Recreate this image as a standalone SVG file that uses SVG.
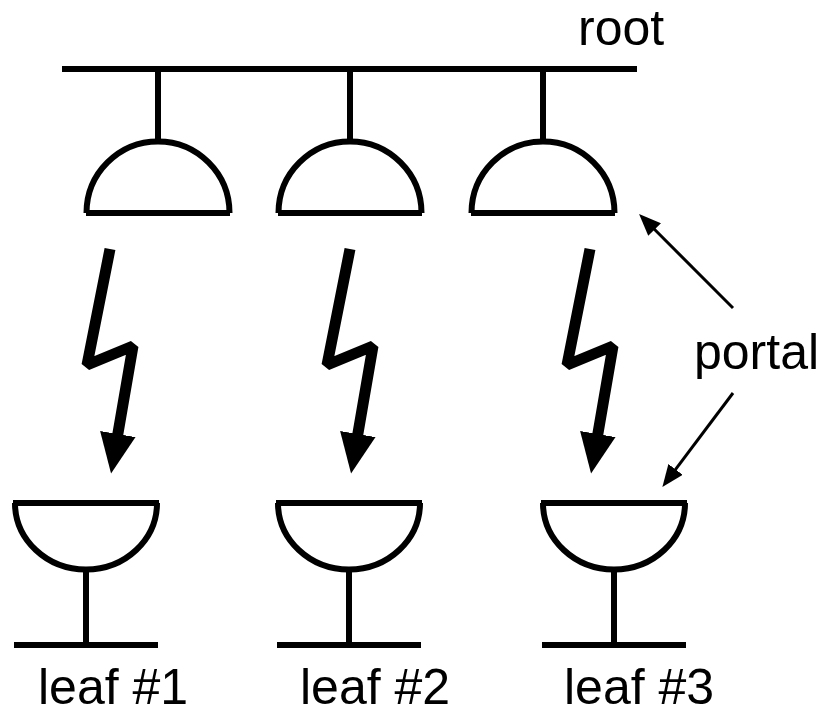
<svg xmlns="http://www.w3.org/2000/svg" width="827" height="710" viewBox="0 0 827 710">
  <style>
    .ln { fill: none; stroke: #000; stroke-width: 6; }
    .bolt { fill: none; stroke: #000; stroke-width: 11; stroke-linejoin: bevel; }
    .ptr { fill: none; stroke: #000; stroke-width: 3; }
    .lbl { font-family: "Liberation Sans", Arial, sans-serif; font-size: 50px; fill: #000; }
  </style>
  <defs>
    <marker id="bolthead" viewBox="0 0 40 36" refX="2" refY="18" markerWidth="40" markerHeight="36" markerUnits="userSpaceOnUse" orient="auto">
      <path d="M0,0 L40,18 L0,36 z" fill="#000"/>
    </marker>
    <marker id="head" viewBox="0 0 22 18" refX="1" refY="9" markerWidth="22" markerHeight="18" markerUnits="userSpaceOnUse" orient="auto">
      <path d="M0,0 L22,9 L0,18 z" fill="#000"/>
    </marker>
    <!-- portal dome hanging from the bus: centred at x=0, flat side at y=0 -->
    <g id="dome">
      <path class="ln" d="M-71.5,0 A71.5,71.5 0 0 1 71.5,0"/>
      <line class="ln" x1="-72" y1="0" x2="72" y2="0"/>
    </g>
    <!-- leaf dish with stem and base: rim centred at x=0, y=0 -->
    <g id="dish">
      <line class="ln" x1="-73" y1="0" x2="73" y2="0"/>
      <path class="ln" d="M-71,0 A71,66.5 0 0 0 71,0"/>
      <line class="ln" x1="0" y1="66" x2="0" y2="142"/>
      <line class="ln" x1="-72" y1="142" x2="72" y2="142"/>
    </g>
    <polyline id="bolt" class="bolt" points="110,249 87,365 133,346 117.5,436" marker-end="url(#bolthead)"/>
  </defs>

  <g id="root">
    <line class="ln" x1="62" y1="69" x2="637" y2="69"/>
    <text class="lbl" x="578" y="45">root</text>
  </g>

  <g id="portal-root-1">
    <line class="ln" x1="158" y1="69" x2="158" y2="142"/>
    <use href="#dome" x="158" y="213"/>
  </g>
  <g id="portal-root-2">
    <line class="ln" x1="350" y1="69" x2="350" y2="142"/>
    <use href="#dome" x="350" y="213"/>
  </g>
  <g id="portal-root-3">
    <line class="ln" x1="543" y1="69" x2="543" y2="142"/>
    <use href="#dome" x="543" y="213"/>
  </g>

  <g id="leaf-1">
    <use href="#dish" x="86" y="503"/>
    <text class="lbl" x="38" y="704">leaf #1</text>
  </g>
  <g id="leaf-2">
    <use href="#dish" x="349" y="503"/>
    <text class="lbl" x="300" y="704">leaf #2</text>
  </g>
  <g id="leaf-3">
    <use href="#dish" x="614" y="503"/>
    <text class="lbl" x="564" y="704">leaf #3</text>
  </g>

  <g id="portal-label">
    <text class="lbl" x="694" y="369">portal</text>
  </g>

  <g id="connectors">
    <use href="#bolt"/>
    <use href="#bolt" x="240"/>
    <use href="#bolt" x="480"/>
    <line class="ptr" x1="733" y1="308" x2="653.9" y2="228.8" marker-end="url(#head)"/>
    <line class="ptr" x1="733" y1="393" x2="675" y2="470.2" marker-end="url(#head)"/>
  </g>
</svg>
